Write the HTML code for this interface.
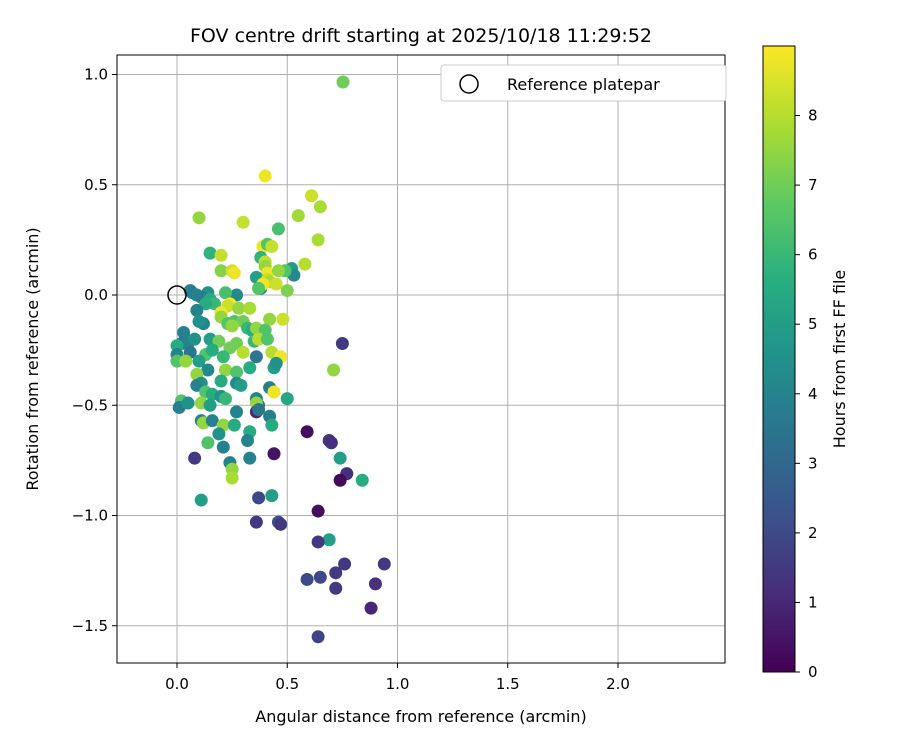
<!DOCTYPE html>
<html><head><meta charset="utf-8"><style>
body{margin:0;background:#fff;}
svg text{font-family:"DejaVu Sans","Liberation Sans",sans-serif;fill:#000;}
</style></head><body>
<svg id="chart" width="900" height="750" xmlns="http://www.w3.org/2000/svg">
<defs>
<linearGradient id="vir" x1="0" y1="1" x2="0" y2="0">
<stop offset="0" stop-color="#440154"/><stop offset="0.125" stop-color="#472d7b"/><stop offset="0.25" stop-color="#3b528b"/><stop offset="0.375" stop-color="#2c728e"/><stop offset="0.5" stop-color="#21918c"/><stop offset="0.625" stop-color="#28ae80"/><stop offset="0.75" stop-color="#5ec962"/><stop offset="0.875" stop-color="#addc30"/><stop offset="1" stop-color="#fde725"/>
</linearGradient>
<clipPath id="clip"><rect x="117" y="55" width="608" height="608"/></clipPath>
</defs>
<rect width="900" height="750" fill="#fff"/>
<g id="grid"></g>
<g id="points" clip-path="url(#clip)"></g>
<rect x="117" y="55" width="608" height="608" fill="none" stroke="#000" stroke-width="1"/>
<g id="ticks"></g>
<text x="421" y="42" text-anchor="middle" font-size="19">FOV centre drift starting at 2025/10/18 11:29:52</text>
<text x="421" y="722" text-anchor="middle" font-size="16">Angular distance from reference (arcmin)</text>
<text transform="translate(38,359) rotate(-90)" text-anchor="middle" font-size="16">Rotation from reference (arcmin)</text>
<g>
<rect x="441" y="65" width="285" height="36" rx="3" fill="#fff" stroke="#ccc"/>
<circle cx="469" cy="84" r="9" fill="none" stroke="#000" stroke-width="1.5"/>
<text x="507" y="90" font-size="16">Reference platepar</text>
</g>
<rect x="763" y="46" width="32" height="626" fill="url(#vir)" stroke="#000" stroke-width="1"/>
<g id="cbticks"></g>
<text transform="translate(845,359) rotate(-90)" text-anchor="middle" font-size="16">Hours from first FF file</text>
</svg>
<script>
const xTicks=[0.0,0.5,1.0,1.5,2.0];
const yTicks=[1.0,0.5,0.0,-0.5,-1.0,-1.5];
const cTicks=[0,1,2,3,4,5,6,7,8];
const xs=[0.753,0.40,0.61,0.65,0.55,0.10,0.30,0.46,0.64,0.15,0.20,0.39,0.41,0.43,0.58,0.20,0.25,0.26,0.38,0.40,0.40,0.41,0.52,0.53,0.49,0.46,0.36,0.41,0.42,0.38,0.39,0.45,0.37,0.50,0.06,0.07,0.14,0.09,0.27,0.22,0.11,0.15,0.17,0.13,0.24,0.23,0.28,0.33,0.20,0.09,0.20,0.26,0.30,0.42,0.12,0.10,0.23,0.25,0.32,0.34,0.36,0.40,0.48,0.03,0.02,0.05,0.08,0.15,0.19,0.27,0.35,0.37,0.41,0.00,0.00,0.06,0.13,0.16,0.24,0.21,0.30,0.36,0.43,0.47,0.00,0.04,0.10,0.14,0.22,0.27,0.33,0.44,0.45,0.71,0.75,0.09,0.11,0.20,0.27,0.29,0.42,0.44,0.09,0.13,0.16,0.36,0.37,0.36,0.50,0.02,0.01,0.05,0.11,0.15,0.20,0.22,0.36,0.37,0.27,0.42,0.11,0.12,0.16,0.21,0.43,0.19,0.26,0.33,0.59,0.14,0.21,0.32,0.69,0.70,0.08,0.24,0.25,0.25,0.33,0.44,0.74,0.77,0.74,0.84,0.11,0.37,0.43,0.64,0.36,0.46,0.47,0.69,0.64,0.76,0.94,0.72,0.59,0.65,0.90,0.72,0.88,0.64];
const ys=[0.966,0.54,0.45,0.40,0.36,0.35,0.33,0.30,0.25,0.19,0.18,0.22,0.23,0.22,0.14,0.11,0.11,0.10,0.17,0.15,0.13,0.10,0.12,0.09,0.11,0.11,0.08,0.07,0.06,0.03,0.05,0.05,0.03,0.02,0.02,0.01,0.01,0.00,0.00,0.01,-0.01,-0.02,-0.04,-0.04,-0.04,-0.05,-0.06,-0.06,-0.08,-0.07,-0.10,-0.12,-0.12,-0.11,-0.13,-0.12,-0.13,-0.14,-0.15,-0.16,-0.15,-0.16,-0.11,-0.17,-0.22,-0.22,-0.20,-0.20,-0.21,-0.22,-0.21,-0.20,-0.20,-0.23,-0.27,-0.26,-0.27,-0.25,-0.24,-0.28,-0.26,-0.28,-0.26,-0.28,-0.30,-0.30,-0.30,-0.34,-0.34,-0.35,-0.33,-0.33,-0.31,-0.34,-0.22,-0.36,-0.40,-0.39,-0.40,-0.41,-0.42,-0.44,-0.41,-0.44,-0.45,-0.47,-0.50,-0.49,-0.47,-0.48,-0.51,-0.49,-0.49,-0.50,-0.46,-0.47,-0.53,-0.52,-0.53,-0.55,-0.57,-0.58,-0.57,-0.59,-0.59,-0.63,-0.59,-0.62,-0.62,-0.67,-0.69,-0.66,-0.66,-0.67,-0.74,-0.76,-0.79,-0.83,-0.74,-0.72,-0.74,-0.81,-0.84,-0.84,-0.93,-0.92,-0.91,-0.98,-1.03,-1.03,-1.04,-1.11,-1.12,-1.22,-1.22,-1.26,-1.29,-1.28,-1.31,-1.33,-1.42,-1.55];
const hours=[7.0,8.8,8.3,7.8,7.7,7.5,8.2,6.3,7.8,5.8,8.2,8.8,6.5,8.2,8.0,7.3,8.3,8.8,5.8,8.2,7.5,8.8,5.0,4.2,6.5,7.5,5.0,8.2,7.8,4.5,8.8,8.3,6.5,7.2,4.0,3.8,4.5,4.0,4.3,6.3,3.8,5.5,6.0,5.5,9.0,8.3,7.5,7.8,8.8,4.0,7.5,6.5,7.0,7.5,4.0,4.5,6.5,7.5,6.0,5.5,7.5,6.5,8.3,4.0,3.5,4.0,4.5,5.0,7.0,7.0,6.0,8.0,6.5,5.5,4.0,3.5,6.5,5.5,7.0,6.0,8.0,3.5,8.0,8.8,6.5,7.5,5.0,4.2,7.5,6.5,5.5,5.0,4.5,7.5,1.5,7.5,4.5,5.5,4.2,5.0,3.8,8.8,4.0,6.5,5.5,4.0,3.5,7.5,5.3,6.5,3.8,4.5,7.5,5.0,4.5,6.0,1.0,3.5,4.0,3.8,4.0,7.5,4.0,7.5,5.5,4.5,5.5,5.5,0.3,6.5,4.0,4.0,1.5,1.2,1.5,4.0,7.5,7.8,4.0,0.5,5.0,1.2,0.2,5.5,5.0,2.0,5.0,0.3,1.5,2.2,1.5,5.0,1.5,1.5,1.5,1.5,2.0,2.0,1.3,1.5,1.0,1.8];
const vmin=0, vmax=9.0;
const NS="http://www.w3.org/2000/svg";
const X=v=>177+v*220.5, Y=v=>295-v*220.5, C=v=>672-(v-vmin)/(vmax-vmin)*626;
const vir=[[68,1,84],[71,45,123],[59,82,139],[44,114,142],[33,145,140],[40,174,128],[94,201,98],[173,220,48],[253,231,37]];
function cmap(v){let t=Math.max(0,Math.min(1,(v-vmin)/(vmax-vmin)))*8;let i=Math.min(7,Math.floor(t)),f=t-i;const a=vir[i],b=vir[i+1];return `rgb(${a.map((c,k)=>Math.round(c+(b[k]-c)*f)).join(',')})`;}
function mk(tag,at,parent){const e=document.createElementNS(NS,tag);for(const k in at)e.setAttribute(k,at[k]);parent.appendChild(e);return e;}
const grid=document.getElementById('grid'),ticks=document.getElementById('ticks'),pts=document.getElementById('points'),cb=document.getElementById('cbticks');
const fmt=v=>(v<0?'\u2212':'')+Math.abs(v).toFixed(1);
xTicks.forEach(v=>{const l=mk('line',{x1:X(v),x2:X(v),y1:55,y2:663,stroke:'#b0b0b0','stroke-width':1},grid);


mk('line',{x1:X(v),x2:X(v),y1:663,y2:668,stroke:'#000'},ticks);
const t=mk('text',{x:X(v),y:689,'text-anchor':'middle','font-size':'15'},ticks);t.textContent=fmt(v);

});
yTicks.forEach(v=>{const l=mk('line',{x1:117,x2:725,y1:Y(v),y2:Y(v),stroke:'#b0b0b0','stroke-width':1},grid);


mk('line',{x1:112,x2:117,y1:Y(v),y2:Y(v),stroke:'#000'},ticks);
const t=mk('text',{x:108,y:Y(v)+5,'text-anchor':'end','font-size':'15'},ticks);t.textContent=fmt(v);

});
cTicks.forEach(v=>{mk('line',{x1:795,x2:800,y1:C(v),y2:C(v),stroke:'#000'},cb);
const t=mk('text',{x:808,y:C(v)+5,'font-size':'15'},cb);t.textContent=v;

});
xs.forEach((x,i)=>{const c=mk('circle',{cx:X(x),cy:Y(ys[i]),r:6.5,fill:cmap(hours[i])},pts);

});
const ref=mk('circle',{cx:X(0),cy:Y(0),r:9,fill:'none',stroke:'#000','stroke-width':1.5},pts);


</script>
</body></html>
